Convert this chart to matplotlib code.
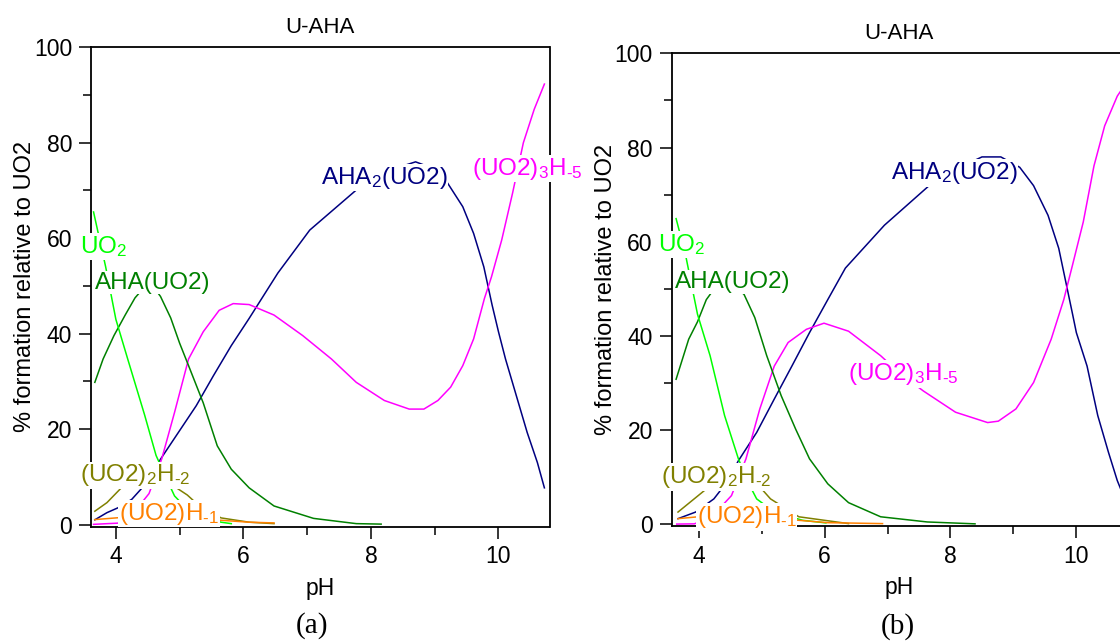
import numpy as np
import matplotlib
matplotlib.use("Agg")
import matplotlib.pyplot as plt

plt.rcParams['font.family'] = ['Liberation Sans', 'DejaVu Sans']
plt.rcParams['mathtext.fontset'] = 'custom'
plt.rcParams['mathtext.rm'] = 'Liberation Sans'
plt.rcParams['mathtext.it'] = 'Liberation Sans:italic'
plt.rcParams['mathtext.bf'] = 'Liberation Sans:bold'

# ---- species distribution, panel (a) ----
ph_aha2_a = [3.67, 3.86, 4.03, 4.25, 4.50, 4.70, 4.98, 5.26, 5.53, 5.81, 6.09, 6.54, 7.04, 7.77,
             8.30, 8.70, 9.00, 9.19, 9.44, 9.61, 9.77, 9.90, 10.0, 10.11, 10.28, 10.45, 10.61, 10.72]
aha2_a = [1.0, 2.5, 3.5, 5.3, 9.0, 13.7, 19.3, 24.9, 31.2, 37.5, 43.2, 52.7, 61.7, 70.1,
          74.3, 76.0, 74.5, 71.8, 66.6, 61.0, 54.0, 46.0, 40.4, 34.7, 27.0, 19.3, 13.0, 7.7]

ph_h5_a = [3.65, 3.87, 4.03, 4.25, 4.52, 4.72, 4.92, 5.14, 5.37, 5.62, 5.84, 6.09, 6.48, 6.93, 7.38,
           7.77, 8.21, 8.60, 8.83, 9.05, 9.25, 9.44, 9.61, 9.78, 9.89, 10.05, 10.22, 10.39, 10.56, 10.72]
h5_a = [0.05, 0.2, 0.3, 2.0, 6.5, 13.8, 23.5, 34.7, 40.4, 44.9, 46.3, 46.1, 43.9, 39.6, 34.7,
        29.8, 26.0, 24.2, 24.2, 26.0, 28.8, 33.3, 38.9, 47.4, 51.9, 59.6, 69.4, 80.0, 87.0, 92.3]

ph_aha_a = [3.67, 3.80, 3.97, 4.15, 4.30, 4.45, 4.58, 4.70, 4.86, 5.00, 5.14, 5.37, 5.59, 5.81,
            6.09, 6.48, 7.10, 7.77, 8.16]
aha_a = [29.8, 34.7, 39.6, 44.0, 47.5, 49.8, 50.0, 47.8, 43.3, 38.0, 33.3, 25.5, 16.5, 11.6,
         7.7, 3.9, 1.3, 0.2, 0.1]

ph_uo2_a = [3.65, 3.84, 4.00, 4.19, 4.45, 4.63, 4.78, 4.92, 5.10, 5.30, 5.65, 5.81]
uo2_a = [65.5, 54.0, 43.0, 34.5, 23.0, 14.5, 10.0, 6.0, 3.5, 1.8, 0.5, 0.2]

ph_h2_a = [3.67, 3.86, 4.10, 4.30, 4.50, 4.70, 4.95, 5.12, 5.30, 5.65, 6.09, 6.48]
h2_a = [2.8, 4.6, 7.9, 10.5, 11.5, 10.5, 7.7, 6.2, 4.0, 1.4, 0.5, 0.2]

ph_h1_a = [3.67, 4.00, 4.30, 4.60, 5.00, 5.30, 5.65, 6.09, 6.48]
h1_a = [1.05, 1.4, 1.7, 1.8, 1.6, 1.2, 0.9, 0.5, 0.35]

# ---- species distribution, panel (b) ----
ph_aha2_b = [3.67, 3.95, 4.24, 4.45, 4.63, 4.92, 5.20, 5.48, 5.76, 6.05, 6.33, 6.95, 7.66, 8.10,
             8.50, 8.80, 9.10, 9.32, 9.55, 9.72, 9.83, 9.94, 10.0, 10.17, 10.34, 10.51, 10.65, 10.78]
aha2_b = [1.2, 2.6, 5.4, 9.0, 13.5, 19.5, 26.6, 33.6, 40.7, 47.7, 54.4, 63.5, 71.9, 75.5,
          78.0, 78.0, 75.8, 71.9, 65.6, 58.6, 51.6, 44.6, 40.7, 33.6, 23.1, 15.3, 9.3, 5.0]

ph_h5_b = [3.65, 3.93, 4.20, 4.52, 4.75, 4.97, 5.20, 5.42, 5.71, 5.99, 6.38, 6.89, 7.20, 7.57,
           8.08, 8.59, 8.76, 9.04, 9.32, 9.60, 9.80, 9.94, 10.11, 10.28, 10.45, 10.65, 10.78]
h5_b = [0.05, 0.1, 1.5, 6.1, 13.9, 24.5, 33.6, 38.6, 41.4, 42.7, 41.0, 35.8, 32.0, 28.3,
        23.8, 21.6, 21.9, 24.5, 30.1, 39.3, 47.7, 55.1, 64.2, 76.1, 84.6, 90.9, 93.5]

ph_aha_b = [3.64, 3.84, 3.98, 4.12, 4.30, 4.50, 4.72, 4.89, 5.08, 5.31, 5.54, 5.76, 6.05, 6.38,
            6.89, 7.63, 8.39]
aha_b = [30.8, 39.3, 43.0, 47.7, 51.0, 51.5, 48.8, 43.9, 35.8, 27.3, 20.2, 13.9, 8.6, 4.6,
         1.6, 0.5, 0.1]

ph_uo2_b = [3.64, 3.79, 3.98, 4.18, 4.41, 4.63, 4.78, 4.92, 5.20, 5.65, 6.02]
uo2_b = [64.9, 57.2, 44.6, 35.8, 23.1, 13.9, 9.0, 5.4, 2.6, 0.85, 0.3]

ph_h2_b = [3.67, 4.12, 4.30, 4.50, 4.70, 5.00, 5.14, 5.59, 6.38]
h2_b = [2.6, 7.5, 9.8, 11.0, 10.0, 7.5, 5.4, 1.6, 0.15]

ph_h1_b = [3.67, 3.95, 4.30, 4.60, 5.00, 5.30, 5.59, 6.05, 6.92]
h1_b = [1.2, 1.55, 1.8, 1.9, 1.6, 1.2, 0.85, 0.35, 0.15]

names = ['AHA$_2$(UO2)', r'(UO2)$_3$H$_{\text{-}5}$', 'AHA(UO2)', 'UO$_2$',
         r'(UO2)$_2$H$_{\text{-}2}$', r'(UO2)H$_{\text{-}1}$']
colors = ['#000080', '#FF00FF', '#008000', '#00FF00', '#808000', '#FF8000']

# label anchor points (pH, %) for each species
label_pos_a = [(8.21, 72.7), (10.45, 74.6), (4.575, 50.7), (3.806, 58.3), (4.295, 10.3), (4.83, 2.3)]
label_pos_b = [(8.06, 74.6), (7.25, 31.9), (4.54, 51.4), (3.72, 59.4), (4.27, 10.0), (4.76, 1.56)]

panel_a = [(ph_aha2_a, aha2_a), (ph_h5_a, h5_a), (ph_aha_a, aha_a),
           (ph_uo2_a, uo2_a), (ph_h2_a, h2_a), (ph_h1_a, h1_a)]
panel_b = [(ph_aha2_b, aha2_b), (ph_h5_b, h5_b), (ph_aha_b, aha_b),
           (ph_uo2_b, uo2_b), (ph_h2_b, h2_b), (ph_h1_b, h1_b)]


def draw_panel(ax, curves, label_pos, xlim):
    for (ph, y), c in zip(curves, colors):
        ax.plot(ph, y, color=c, lw=1.1, zorder=2)
    for name, (x, y), c in zip(names, label_pos, colors):
        ax.text(x, y, name, color=c, fontsize=17.5, ha='center', va='center', zorder=3,
                bbox=dict(facecolor='white', edgecolor='none', pad=0.5))
    ax.set_xlim(*xlim)
    ax.set_ylim(-0.4, 100)
    ax.set_xticks([4, 6, 8, 10])
    ax.set_xticks([5, 7, 9], minor=True)
    ax.set_yticks([0, 20, 40, 60, 80, 100])
    ax.set_yticks([10, 30, 50, 70, 90], minor=True)
    ax.tick_params(which='major', direction='out', length=8.6, width=1.1, labelsize=16.5, pad=5)
    ax.tick_params(which='minor', direction='out', length=5.5, width=1.1)
    for s in ax.spines.values():
        s.set_linewidth(1.3)
    ax.set_title('U-AHA', fontsize=16, pad=10)
    ax.set_xlabel('pH', fontsize=16.5)
    ax.set_ylabel('% formation relative to UO2', fontsize=17)
    ax.xaxis.set_label_coords(0.5, -0.105)
    ax.yaxis.set_label_coords(-0.12, 0.5)


fig = plt.figure(figsize=(11.2, 6.41), dpi=100)
ax1 = fig.add_axes([91 / 1120, 1 - 526.5 / 641, 458.5 / 1120, 479.2 / 641])
ax2 = fig.add_axes([671.7 / 1120, 1 - 526.2 / 641, 455 / 1120, 472.9 / 641])

draw_panel(ax1, panel_a, label_pos_a, (3.61, 10.8))
draw_panel(ax2, panel_b, label_pos_b, (3.57, 10.8))

fig.text(312 / 1120, 1 - 626 / 641, '(a)', family='Liberation Serif', fontsize=21,
         ha='center', va='center')
fig.text(898 / 1120, 1 - 627 / 641, '(b)', family='Liberation Serif', fontsize=21,
         ha='center', va='center')

fig.savefig('out.png', dpi=100)
